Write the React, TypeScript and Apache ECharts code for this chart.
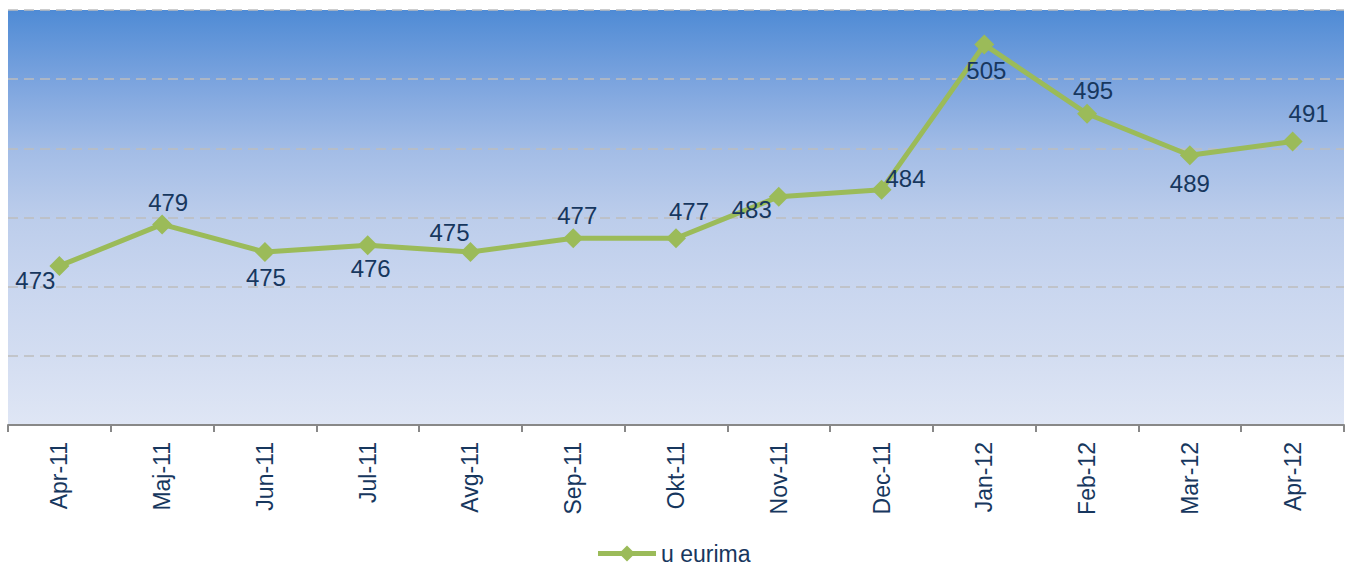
import React, { useEffect, useRef } from "react";
import * as echarts from "echarts";

const categories = ["Apr-11", "Maj-11", "Jun-11", "Jul-11", "Avg-11", "Sep-11", "Okt-11", "Nov-11", "Dec-11", "Jan-12", "Feb-12", "Mar-12", "Apr-12"];
const values = [473, 479, 475, 476, 475, 477, 477, 483, 484, 505, 495, 489, 491];
const seriesName = "u eurima";
// label offsets (style only)
const labelOffsets: [number, number][] = [
  [-24, 15], [6, -22], [1, 25], [3, 23], [-21, -20], [4, -23], [13, -27],
  [-27, 13], [24, -11], [2, 26], [6, -23], [0, 28], [16, -28],
];

const FONT = "'Liberation Sans', Arial, sans-serif";
const TEXT = "#17375e";
const GREEN = "#9bbb59";

export default function App() {
  const ref = useRef<HTMLDivElement>(null);
  useEffect(() => {
    if (!ref.current) return;
    const chart = echarts.init(ref.current, undefined, { renderer: "svg" });
    chart.setOption({
      animation: false,
      textStyle: { fontFamily: FONT },
      grid: {
        left: 8,
        right: 2,
        top: 10,
        bottom: 140,
        show: true,
        borderWidth: 0,
        backgroundColor: new echarts.graphic.LinearGradient(0, 0, 0, 1, [
          { offset: 0, color: "#4f8bd5" },
          { offset: 0.167, color: "#7aa3de" },
          { offset: 0.333, color: "#a2bce6" },
          { offset: 0.5, color: "#bccdeb" },
          { offset: 0.667, color: "#c9d6ef" },
          { offset: 0.833, color: "#d3ddf1" },
          { offset: 1, color: "#dfe6f5" },
        ]),
      },
      legend: {
        bottom: 0,
        left: "center",
        padding: [0, 5, 0, 5],
        itemWidth: 58,
        itemHeight: 20,
        itemGap: 2,
        lineStyle: { width: 5, color: GREEN },
        itemStyle: { color: GREEN },
        textStyle: { fontSize: 23, color: TEXT, fontFamily: FONT },
        data: [seriesName],
      },
      xAxis: {
        type: "category",
        data: categories,
        boundaryGap: true,
        axisLine: { lineStyle: { color: "#888888", width: 2 } },
        axisTick: { show: true, length: 7, lineStyle: { color: "#888888", width: 2 } },
        axisLabel: {
          rotate: 90,
          margin: 17,
          fontSize: 23,
          color: TEXT,
          fontFamily: FONT,
        },
      },
      yAxis: {
        type: "value",
        min: 450,
        max: 510,
        interval: 10,
        axisLabel: { show: false },
        axisLine: { show: false },
        axisTick: { show: false },
        splitLine: { show: true, lineStyle: { color: "#bdbdbd", type: [10, 6], width: 1.5 } },
      },
      series: [
        {
          name: seriesName,
          type: "line",
          data: values.map((v, i) => ({
            value: v,
            label: { offset: labelOffsets[i] },
          })),
          symbol: "diamond",
          symbolSize: 20,
          lineStyle: { color: GREEN, width: 5 },
          itemStyle: { color: GREEN },
          label: {
            show: true,
            position: "inside",
            fontSize: 24,
            color: TEXT,
            fontFamily: FONT,
          },
        },
      ],
    });
    return () => chart.dispose();
  }, []);
  return (
    <div
      ref={ref}
      style={{ position: "fixed", left: 0, top: 0, width: 1346, height: 565, background: "#ffffff" }}
    />
  );
}
